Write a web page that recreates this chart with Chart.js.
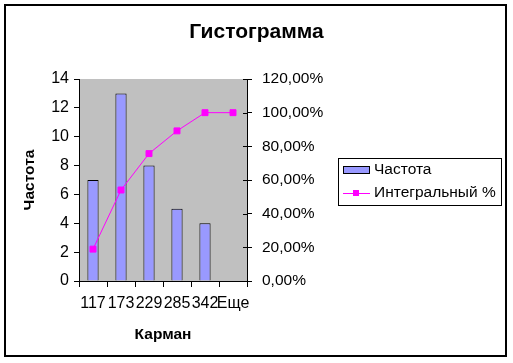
<!DOCTYPE html>
<html lang="ru">
<head>
    <meta charset="UTF-8">
    <title>Гистограмма</title>
    <script src="https://cdn.jsdelivr.net/npm/chart.js"></script>
    <style>
        body {
            margin: 0;
            padding: 0;
            background: white;
        }
        .chart-box {
            width: 513px;
            height: 363px;
        }
    </style>
</head>
<body>
    <div class="chart-box">
        <canvas id="hist"></canvas>
    </div>

    <script>
        // Данные гистограммы
        const bins = ['117', '173', '229', '285', '342', 'Еще'];
        const freq = [7, 13, 8, 5, 4, 0];
        const cumPct = [0.1892, 0.5405, 0.7568, 0.8919, 1.0, 1.0];
        const leftTicks = [0, 14, 2];     // min, max, step
        const rightTicks = [0, 1.2, 0.2];

        const FONT = 'Arial, "Liberation Sans", sans-serif';

        // фон области построения + внешняя рамка
        const frame = {
            id: 'frame',
            beforeDraw(chart) {
                const {ctx, chartArea: a} = chart;
                ctx.save();
                ctx.fillStyle = '#c0c0c0';
                ctx.fillRect(a.left, a.top, a.right - a.left, a.bottom - a.top);
                ctx.strokeStyle = '#000';
                ctx.lineWidth = 2;
                ctx.strokeRect(5, 5, 501, 351);
                ctx.restore();
            },
            afterDraw(chart) {
                const {ctx} = chart;
                // засечки правой оси внутрь
                const y1 = chart.scales.y1;
                ctx.save();
                ctx.strokeStyle = '#000';
                ctx.lineWidth = 1;
                y1.ticks.forEach(t => {
                    const py = Math.round(y1.getPixelForValue(t.value)) + 0.5;
                    ctx.beginPath();
                    ctx.moveTo(y1.left - 4, py);
                    ctx.lineTo(y1.left, py);
                    ctx.stroke();
                });

                // легенда
                const lx = 338, ly = 158, lw = 163, lh = 47;
                ctx.fillStyle = '#fff';
                ctx.fillRect(lx, ly, lw, lh);
                ctx.strokeStyle = '#000';
                ctx.strokeRect(lx + 0.5, ly + 0.5, lw, lh);

                const ds = chart.data.datasets;
                ctx.font = '15.5px ' + FONT;
                ctx.textBaseline = 'middle';

                // столбцы
                ctx.fillStyle = ds[1].backgroundColor;
                ctx.fillRect(343, 166, 26, 7);
                ctx.strokeRect(343.5, 166.5, 26, 7);
                ctx.fillStyle = '#000';
                ctx.fillText(ds[1].label, 374, 170);

                // линия
                ctx.strokeStyle = ds[0].borderColor;
                ctx.beginPath();
                ctx.moveTo(343, 193.5);
                ctx.lineTo(370, 193.5);
                ctx.stroke();
                ctx.fillStyle = ds[0].borderColor;
                ctx.fillRect(353, 190, 6, 6);
                ctx.fillStyle = '#000';
                ctx.fillText(ds[0].label, 374, 193);
                ctx.restore();
            }
        };

        const chart = new Chart(document.getElementById('hist'), {
            data: {
                labels: bins,
                datasets: [{
                    type: 'line',
                    label: 'Интегральный %',
                    data: cumPct,
                    yAxisID: 'y1',
                    borderColor: '#ff00ff',
                    backgroundColor: '#ff00ff',
                    borderWidth: 1,
                    pointStyle: 'rect',
                    pointRadius: 4.2,
                    tension: 0,
                    order: 1
                }, {
                    type: 'bar',
                    label: 'Частота',
                    data: freq,
                    yAxisID: 'y',
                    backgroundColor: '#9999ff',
                    borderColor: '#000',
                    borderWidth: 1,
                    barPercentage: 0.4,
                    categoryPercentage: 1,
                    order: 2
                }]
            },
            options: {
                responsive: true,
                maintainAspectRatio: false,
                animation: false,
                layout: { padding: 0 },
                plugins: {
                    legend: { display: false },
                    tooltip: { enabled: false },
                    title: {
                        display: true,
                        text: 'Гистограмма',
                        color: '#000',
                        font: { family: FONT, size: 21, weight: 'bold' },
                        padding: { top: 20, bottom: 33.8 }
                    }
                },
                scales: {
                    x: {
                        offset: true,
                        grid: { offset: true, drawOnChartArea: false, color: '#000', tickLength: 6 },
                        border: { color: '#000' },
                        ticks: {
                            color: '#000',
                            font: { family: FONT, size: 16 },
                            autoSkip: false,
                            maxRotation: 0,
                            padding: 7
                        },
                        title: {
                            display: true,
                            text: 'Карман',
                            color: '#000',
                            font: { family: FONT, size: 15.5, weight: 'bold' },
                            padding: { top: 0, bottom: 19 }
                        },
                        afterFit(s) { s.height = 82; }
                    },
                    y: {
                        position: 'left',
                        min: leftTicks[0],
                        max: leftTicks[1],
                        grid: { drawOnChartArea: false, color: '#000', tickLength: 5 },
                        border: { color: '#000' },
                        ticks: {
                            stepSize: leftTicks[2],
                            color: '#000',
                            font: { family: FONT, size: 16 },
                            padding: 5
                        },
                        title: {
                            display: true,
                            text: 'Частота',
                            color: '#000',
                            font: { family: FONT, size: 15.5, weight: 'bold' },
                            padding: { top: 20, bottom: 0 }
                        },
                        afterFit(s) { s.width = 79; }
                    },
                    y1: {
                        position: 'right',
                        min: rightTicks[0],
                        max: rightTicks[1],
                        grid: { drawOnChartArea: false, color: '#000', tickLength: 5 },
                        border: { color: '#000' },
                        ticks: {
                            stepSize: rightTicks[2],
                            color: '#000',
                            font: { family: FONT, size: 15.5 },
                            padding: 10,
                            callback: v => (v * 100).toFixed(2).replace('.', ',') + '%'
                        },
                        afterFit(s) { s.width = 266; }
                    }
                }
            },
            plugins: [frame]
        });
    </script>
</body>
</html>
